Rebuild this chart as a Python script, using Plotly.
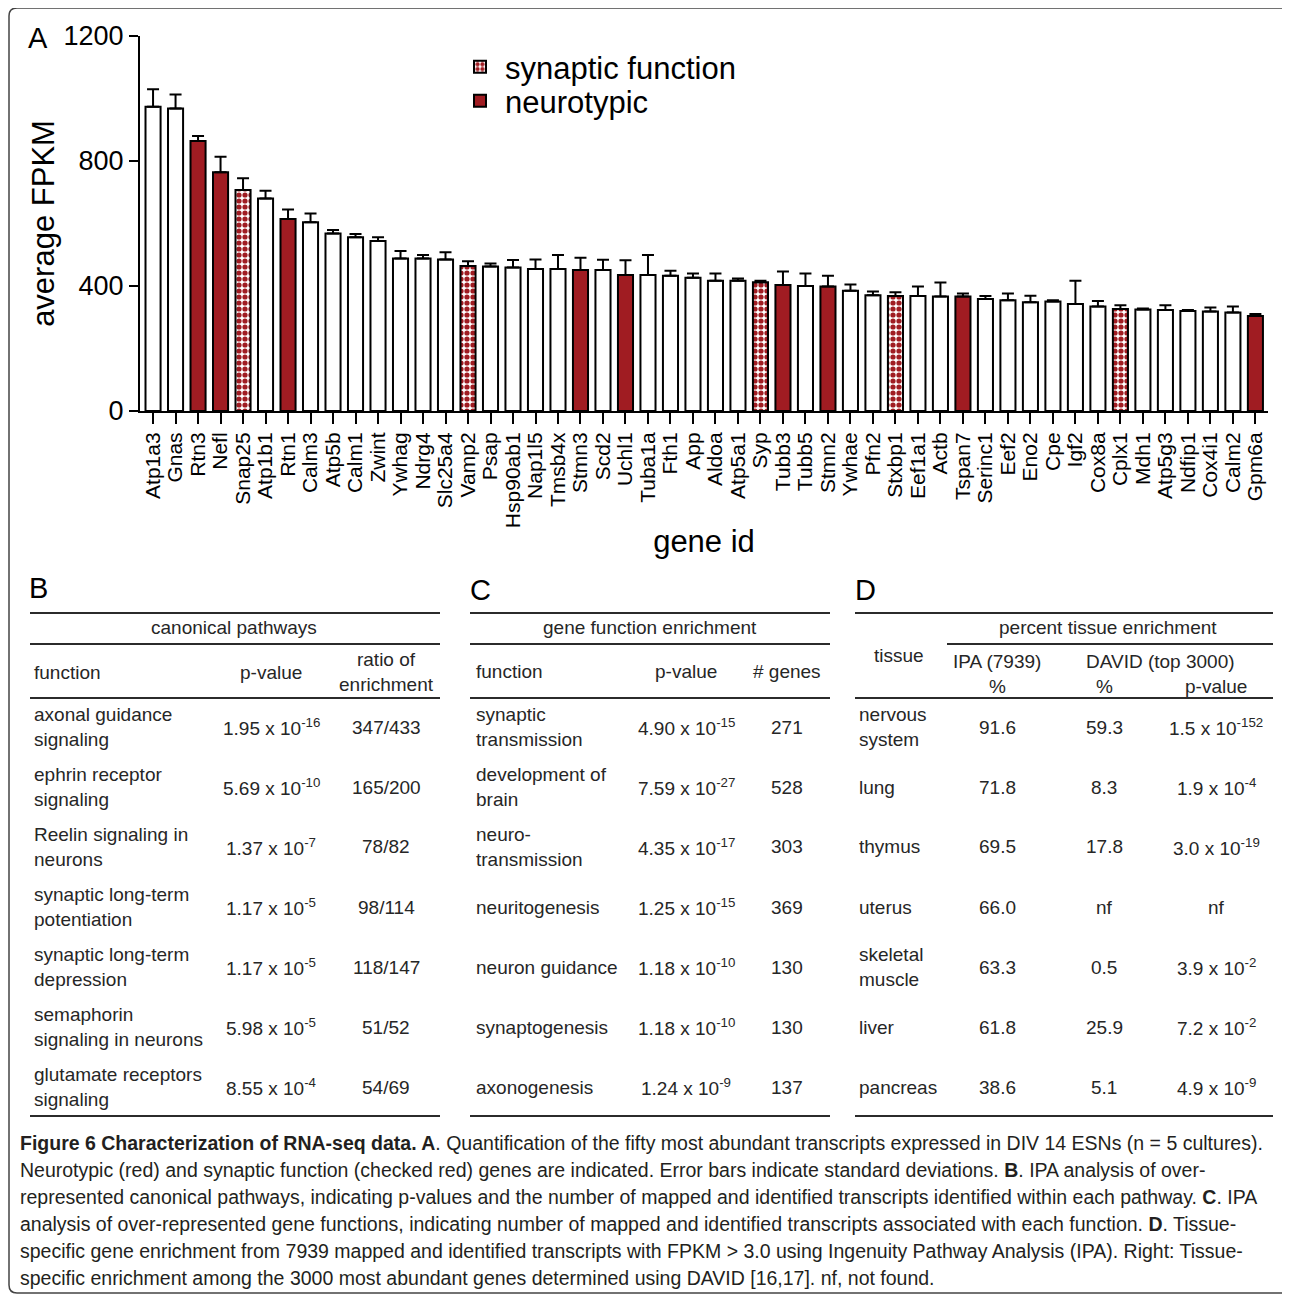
import plotly.graph_objects as go

W, H = 1290, 1295
OFF = 8  # page offset of the figure inside the browser window

# ---------------- data: panel A ----------------
genes = ["Atp1a3", "Gnas", "Rtn3", "Nefl", "Snap25", "Atp1b1", "Rtn1", "Calm3", "Atp5b", "Calm1",
         "Zwint", "Ywhag", "Ndrg4", "Slc25a4", "Vamp2", "Psap", "Hsp90ab1", "Nap1l5", "Tmsb4x", "Stmn3",
         "Scd2", "Uchl1", "Tuba1a", "Fth1", "App", "Aldoa", "Atp5a1", "Syp", "Tubb3", "Tubb5",
         "Stmn2", "Ywhae", "Pfn2", "Stxbp1", "Eef1a1", "Actb", "Tspan7", "Serinc1", "Eef2", "Eno2",
         "Cpe", "Igf2", "Cox8a", "Cplx1", "Mdh1", "Atp5g3", "Ndfip1", "Cox4i1", "Calm2", "Gpm6a"]
fpkm = [974, 968, 864, 764, 707, 680, 614, 604, 568, 556,
        544, 488, 488, 485, 464, 462, 459, 454, 454, 451,
        451, 435, 435, 433, 426, 417, 417, 412, 403, 400,
        398, 385, 370, 368, 368, 366, 366, 358, 354, 348,
        350, 342, 334, 326, 325, 323, 320, 318, 315, 304]
sd = [56, 45, 16, 50, 38, 25, 31, 28, 11, 10,
      12, 24, 11, 23, 15, 10, 24, 31, 45, 39,
      33, 47, 64, 16, 14, 23, 7, 5, 43, 40,
      35, 20, 12, 12, 30, 45, 10, 10, 22, 21,
      4, 75, 18, 12, 3, 15, 3, 13, 19, 6]
synaptic = ["Snap25", "Vamp2", "Syp", "Stxbp1", "Cplx1"]
neurotypic = ["Rtn3", "Nefl", "Rtn1", "Stmn3", "Uchl1", "Tubb3", "Stmn2", "Tspan7", "Gpm6a"]
y_ticks = [0, 400, 800, 1200]

# ---------------- data: panel B ----------------
b_function = ["axonal guidance<br>signaling", "ephrin receptor<br>signaling", "Reelin signaling in<br>neurons",
              "synaptic long-term<br>potentiation", "synaptic long-term<br>depression",
              "semaphorin<br>signaling in neurons", "glutamate receptors<br>signaling"]
b_p_mant = ["1.95", "5.69", "1.37", "1.17", "1.17", "5.98", "8.55"]
b_p_exp = ["-16", "-10", "-7", "-5", "-5", "-5", "-4"]
b_ratio = ["347/433", "165/200", "78/82", "98/114", "118/147", "51/52", "54/69"]

# ---------------- data: panel C ----------------
c_function = ["synaptic<br>transmission", "development of<br>brain", "neuro-<br>transmission",
              "neuritogenesis", "neuron guidance", "synaptogenesis", "axonogenesis"]
c_p_mant = ["4.90", "7.59", "4.35", "1.25", "1.18", "1.18", "1.24"]
c_p_exp = ["-15", "-27", "-17", "-15", "-10", "-10", "-9"]
c_genes = ["271", "528", "303", "369", "130", "130", "137"]

# ---------------- data: panel D ----------------
d_tissue = ["nervous<br>system", "lung", "thymus", "uterus", "skeletal<br>muscle", "liver", "pancreas"]
d_ipa = ["91.6", "71.8", "69.5", "66.0", "63.3", "61.8", "38.6"]
d_david = ["59.3", "8.3", "17.8", "nf", "0.5", "25.9", "5.1"]
d_p_mant = ["1.5", "1.9", "3.0", "nf", "3.9", "7.2", "4.9"]
d_p_exp = ["-152", "-4", "-19", "", "-2", "-2", "-9"]

caption_lines = [
    "<b>Figure 6 Characterization of RNA-seq data. A</b>. Quantification of the fifty most abundant transcripts expressed in DIV 14 ESNs (n = 5 cultures).",
    "Neurotypic (red) and synaptic function (checked red) genes are indicated. Error bars indicate standard deviations. <b>B</b>. IPA analysis of over-",
    "represented canonical pathways, indicating p-values and the number of mapped and identified transcripts identified within each pathway. <b>C</b>. IPA",
    "analysis of over-represented gene functions, indicating number of mapped and identified transcripts associated with each function. <b>D</b>. Tissue-",
    "specific gene enrichment from 7939 mapped and identified transcripts with FPKM &gt; 3.0 using Ingenuity Pathway Analysis (IPA). Right: Tissue-",
    "specific enrichment among the 3000 most abundant genes determined using DAVID [16,17]. nf, not found.",
]

RED = "#a01c22"
FONT = "Liberation Sans, Arial, Helvetica, sans-serif"
CAPFONT = "Liberation Sans, Arial, sans-serif"
TXT = "#262626"
TS = 19  # table font size


def X(px):
    return (px - OFF) / W


def Y(py):
    return 1 - (py - OFF) / H


def subset(names):
    idx = [genes.index(g) for g in names]
    return [genes[i] for i in idx], [fpkm[i] for i in idx], [sd[i] for i in idx]


other = [g for g in genes if g not in synaptic and g not in neurotypic]

fig = go.Figure()


def add_bars(names, label, marker, showlegend, legend="legend"):
    gx, gy, ge = subset(names)
    fig.add_trace(go.Bar(
        x=gx, y=gy, name=label, showlegend=showlegend, legend=legend,
        marker=marker,
        error_y=dict(type="data", array=ge, arrayminus=[0] * len(ge), symmetric=False,
                     color="black", thickness=2, width=6),
    ))


add_bars(synaptic, "synaptic function",
         dict(color="white", line=dict(color="black", width=2),
              pattern=dict(shape=".", fgcolor=RED, bgcolor="white", size=6, solidity=0.6, fillmode="replace")),
         True, "legend")
add_bars(neurotypic, "neurotypic", dict(color=RED, line=dict(color="black", width=2)), True, "legend2")
add_bars(other, "other", dict(color="white", line=dict(color="black", width=2)), False)

legend_style = dict(xanchor="left", yanchor="top", font=dict(size=31, family=FONT, color="black"),
                    bgcolor="rgba(0,0,0,0)", itemwidth=40)

fig.update_layout(
    width=W, height=H,
    margin=dict(l=0, r=0, t=0, b=0, autoexpand=False),
    paper_bgcolor="white", plot_bgcolor="white",
    barmode="overlay", bargap=0.33,
    font=dict(family=FONT, color="black"),
    showlegend=True,
    legend=dict(x=X(455), y=Y(40), **legend_style),
    legend2=dict(x=X(455), y=Y(74), **legend_style),
    xaxis=dict(domain=[X(140), X(1268)], range=[-0.58, 49.56],
               type="category", categoryorder="array", categoryarray=genes,
               tickmode="array", tickvals=genes, ticktext=genes,
               showline=True, linecolor="black", linewidth=2,
               ticks="outside", ticklen=11, tickwidth=2, tickcolor="black",
               tickangle=-90, tickfont=dict(size=21, family=FONT),
               showgrid=False, zeroline=False, anchor="y", automargin=False,
               title=dict(text="gene id", font=dict(size=31, family=FONT), standoff=3)),
    yaxis=dict(domain=[Y(411), Y(36)], range=[0, 1200],
               tickvals=y_ticks, ticktext=[str(v) for v in y_ticks],
               showline=True, linecolor="black", linewidth=2,
               ticks="outside", ticklen=9, tickwidth=2, tickcolor="black",
               tickfont=dict(size=27, family=FONT),
               showgrid=False, zeroline=False, anchor="x", automargin=False,
               title=dict(text="average FPKM", font=dict(size=31, family=FONT), standoff=0)),
)

ann = []
shapes = []


def text(px, py, s, size=TS, anchor="center", yanchor="middle", family=FONT, color=TXT):
    ann.append(dict(x=X(px), y=Y(py), xref="paper", yref="paper", text=s, showarrow=False,
                    xanchor=anchor, yanchor=yanchor, align=anchor if anchor != "center" else "center",
                    font=dict(size=size, family=family, color=color)))


def hline(x0, x1, py, w=2.2):
    shapes.append(dict(type="line", xref="paper", yref="paper", x0=X(x0), x1=X(x1), y0=Y(py), y1=Y(py),
                       line=dict(color="#2b2b2b", width=w)))


def pval(m, e):
    if e == "":
        return m
    return f"{m} x 10<sup>{e}</sup>"


# panel letters
text(38, 38, "A", size=29, color="black")
text(38, 588, "B", size=29, color="black")
text(480, 590, "C", size=29, color="black")
text(865, 590, "D", size=29, color="black")

row_y = [727 + 60 * k for k in range(7)]
TOP, MID, HEAD, BOT = 613, 644, 698, 1116

# ---- table B ----
for py in (TOP, MID, HEAD, BOT):
    hline(30, 440, py)
text(234, 628, "canonical pathways")
text(32, 672, "function", anchor="left")
text(271, 672, "p-value")
text(386, 672, "ratio of<br>enrichment")
for k in range(7):
    text(32, row_y[k], b_function[k], anchor="left")
    text(271, row_y[k], pval(b_p_mant[k], b_p_exp[k]))
    text(386, row_y[k], b_ratio[k])

# ---- table C ----
for py in (TOP, MID, HEAD, BOT):
    hline(470, 830, py)
text(650, 628, "gene function enrichment")
text(474, 671, "function", anchor="left")
text(686, 671, "p-value")
text(787, 671, "# genes")
for k in range(7):
    text(474, row_y[k], c_function[k], anchor="left")
    text(686, row_y[k], pval(c_p_mant[k], c_p_exp[k]))
    text(787, row_y[k], c_genes[k])

# ---- table D ----
hline(855, 1273, TOP)
hline(947, 1273, MID)
hline(855, 1273, HEAD)
hline(855, 1273, BOT)
text(1108, 628, "percent tissue enrichment")
text(899, 655, "tissue")
text(997, 661, "IPA (7939)")
text(997, 686, "%")
text(1160, 661, "DAVID (top 3000)")
text(1104, 686, "%")
text(1216, 686, "p-value")
for k in range(7):
    text(857, row_y[k], d_tissue[k], anchor="left")
    text(997, row_y[k], d_ipa[k])
    text(1104, row_y[k], d_david[k])
    text(1216, row_y[k], pval(d_p_mant[k], d_p_exp[k]))

# ---- caption ----
for i, line in enumerate(caption_lines):
    text(18, 1143 + 27 * i, line, size=19.5, anchor="left", family=CAPFONT, color="#231f20")

# ---- frame ----
x0, x1, y0, y1, r = X(9), X(1292), Y(8), Y(1293), 8
rx, ry = r / W, r / H
path = (f"M {x0 + rx},{y0} L {x1 - rx},{y0} Q {x1},{y0} {x1},{y0 - ry} "
        f"L {x1},{y1 + ry} Q {x1},{y1} {x1 - rx},{y1} L {x0 + rx},{y1} "
        f"Q {x0},{y1} {x0},{y1 + ry} L {x0},{y0 - ry} Q {x0},{y0} {x0 + rx},{y0} Z")
shapes.append(dict(type="path", xref="paper", yref="paper", path=path,
                   line=dict(color="#444444", width=1.5), fillcolor="rgba(0,0,0,0)"))

fig.update_layout(annotations=ann, shapes=shapes)
fig.write_html("out.html")
